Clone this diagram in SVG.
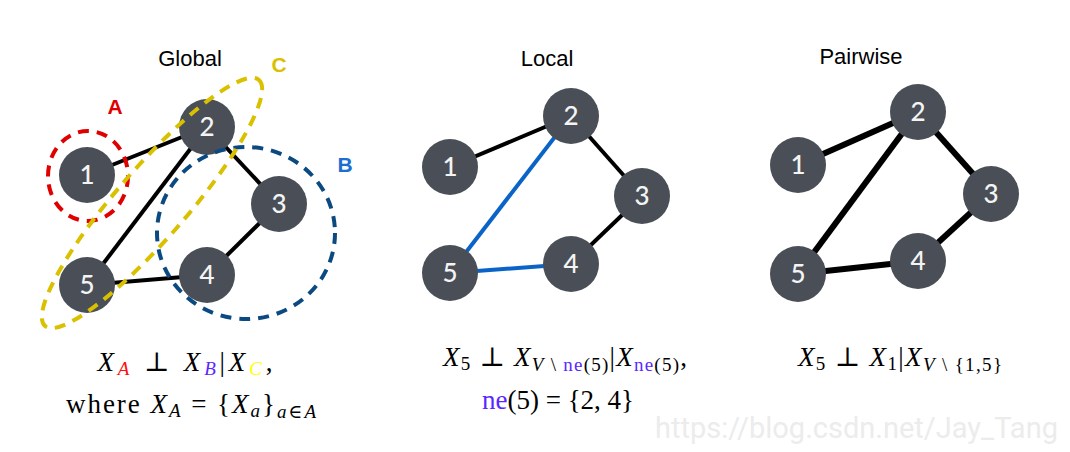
<svg xmlns="http://www.w3.org/2000/svg" width="1070" height="452" viewBox="0 0 1070 452">
<style>
.title{font-family:"Liberation Sans",Arial,sans-serif;font-size:22px;fill:#000;text-anchor:middle}
.node circle{fill:#4a4f57}
.node text{font-family:Lato,"Open Sans",sans-serif;font-size:26px;font-weight:500;fill:#f4f4f4;text-anchor:middle}
.e{stroke:#000;stroke-width:4;stroke-linecap:butt}
.ep{stroke:#000;stroke-width:6}
.eb{stroke:#0a64c8;stroke-width:4}
.set{font-family:"Liberation Sans",Arial,sans-serif;font-size:21px;font-weight:bold;text-anchor:middle}
.dash{fill:none;stroke-width:4;stroke-dasharray:11 8}
.math{font-family:"Liberation Serif","DejaVu Serif",serif;font-size:27px;fill:#000;text-anchor:middle}
.it{font-style:italic}
.sub{font-size:19px}
.wm{font-family:Roboto,"Liberation Sans",sans-serif;font-size:29px;fill:#ececec}
</style>
<rect width="1070" height="452" fill="#fff"/>

<!-- Titles -->
<text class="title" x="190" y="66">Global</text>
<text class="title" x="547" y="66">Local</text>
<text class="title" x="861" y="64">Pairwise</text>

<!-- Connectors -->
<g id="connectors">
  <line class="e" x1="87" y1="175" x2="207" y2="127"/>
  <line class="e" x1="207" y1="127" x2="87" y2="285"/>
  <line class="e" x1="207" y1="127" x2="279" y2="204"/>
  <line class="e" x1="279" y1="204" x2="207" y2="275"/>
  <line class="e" x1="207" y1="275" x2="87" y2="285"/>

  <line class="e" x1="450" y1="167" x2="571" y2="116"/>
  <line class="e" x1="571" y1="116" x2="642" y2="196"/>
  <line class="e" x1="642" y1="196" x2="571" y2="264"/>
  <line class="eb" x1="571" y1="116" x2="450" y2="273"/>
  <line class="eb" x1="450" y1="273" x2="571" y2="264"/>

  <line class="ep" x1="798" y1="165" x2="918" y2="112"/>
  <line class="ep" x1="918" y1="112" x2="991" y2="194"/>
  <line class="ep" x1="991" y1="194" x2="918" y2="261"/>
  <line class="ep" x1="918" y1="112" x2="798" y2="274"/>
  <line class="ep" x1="798" y1="274" x2="918" y2="261"/>
</g>

<!-- Global nodes -->
<g id="g1" class="node"><circle cx="87" cy="175" r="28"/><text x="87" y="184">1</text></g>
<g id="g2" class="node"><circle cx="207" cy="127" r="28"/><text x="207" y="136">2</text></g>
<g id="g3" class="node"><circle cx="279" cy="204" r="28"/><text x="279" y="213">3</text></g>
<g id="g4" class="node"><circle cx="207" cy="275" r="28"/><text x="207" y="284">4</text></g>
<g id="g5" class="node"><circle cx="87" cy="285" r="28"/><text x="87" y="294">5</text></g>

<!-- Local nodes -->
<g id="l1" class="node"><circle cx="450" cy="167" r="28"/><text x="450" y="176">1</text></g>
<g id="l2" class="node"><circle cx="571" cy="116" r="28"/><text x="571" y="125">2</text></g>
<g id="l3" class="node"><circle cx="642" cy="196" r="28"/><text x="642" y="205">3</text></g>
<g id="l4" class="node"><circle cx="571" cy="264" r="28"/><text x="571" y="273">4</text></g>
<g id="l5" class="node"><circle cx="450" cy="273" r="28"/><text x="450" y="282">5</text></g>

<!-- Pairwise nodes -->
<g id="p1" class="node"><circle cx="798" cy="165" r="28"/><text x="798" y="174">1</text></g>
<g id="p2" class="node"><circle cx="918" cy="112" r="28"/><text x="918" y="121">2</text></g>
<g id="p3" class="node"><circle cx="991" cy="194" r="28"/><text x="991" y="203">3</text></g>
<g id="p4" class="node"><circle cx="918" cy="261" r="28"/><text x="918" y="270">4</text></g>
<g id="p5" class="node"><circle cx="798" cy="274" r="28"/><text x="798" y="283">5</text></g>

<!-- Set outlines -->
<g id="setA">
  <ellipse class="dash" cx="88" cy="176" rx="40" ry="45" stroke="#e00000"/>
  <text class="set" x="115" y="114" fill="#e00000">A</text>
</g>
<g id="setB">
  <ellipse class="dash" cx="246" cy="233" rx="89" ry="86" stroke="#0b4a80"/>
  <text class="set" x="345" y="172" fill="#1a6fd0">B</text>
</g>
<g id="setC">
  <ellipse class="dash" cx="152" cy="203" rx="163" ry="35" transform="rotate(-49 152 203)" stroke="#d9c100"/>
  <text class="set" x="279" y="72" fill="#d9c100">C</text>
</g>

<!-- Formulas -->
<text class="math" x="185" y="371" textLength="175" lengthAdjust="spacing"><tspan class="it">X</tspan><tspan class="it sub" fill="#ff1010" dy="4">A</tspan><tspan dy="-4"> ⊥ </tspan><tspan class="it">X</tspan><tspan class="it sub" fill="#5a28ff" dy="4">B</tspan><tspan dy="-4">|</tspan><tspan class="it">X</tspan><tspan class="it sub" fill="#ffff00" dy="4">C</tspan><tspan dy="-4">,</tspan></text>
<text class="math" x="191" y="413" textLength="250" lengthAdjust="spacing">where <tspan class="it">X</tspan><tspan class="it sub" dy="4">A</tspan><tspan dy="-4"> = {</tspan><tspan class="it">X</tspan><tspan class="it sub" dy="4">a</tspan><tspan dy="-4">}</tspan><tspan class="sub" dy="5"><tspan class="it">a</tspan>∈<tspan class="it">A</tspan></tspan></text>

<text class="math" x="565" y="366" textLength="244" lengthAdjust="spacing"><tspan class="it">X</tspan><tspan class="sub" dy="4">5</tspan><tspan dy="-4"> ⊥ </tspan><tspan class="it">X</tspan><tspan class="sub" dy="5"><tspan class="it">V</tspan> \ <tspan fill="#5a28ff">ne</tspan>(5)</tspan><tspan dy="-5">|</tspan><tspan class="it">X</tspan><tspan class="sub" dy="5"><tspan fill="#5a28ff">ne</tspan>(5)</tspan><tspan dy="-5">,</tspan></text>
<text class="math" x="558" y="409"><tspan fill="#5a28ff">ne</tspan>(5) = {2, 4}</text>

<text class="math" x="900" y="366" textLength="204" lengthAdjust="spacing"><tspan class="it">X</tspan><tspan class="sub" dy="4">5</tspan><tspan dy="-4"> ⊥ </tspan><tspan class="it">X</tspan><tspan class="sub" dy="4">1</tspan><tspan dy="-4">|</tspan><tspan class="it">X</tspan><tspan class="sub" dy="5"><tspan class="it">V</tspan> \ {1,5}</tspan></text>

<text class="wm" x="655" y="438">https://blog.csdn.net/Jay_Tang</text>
</svg>
